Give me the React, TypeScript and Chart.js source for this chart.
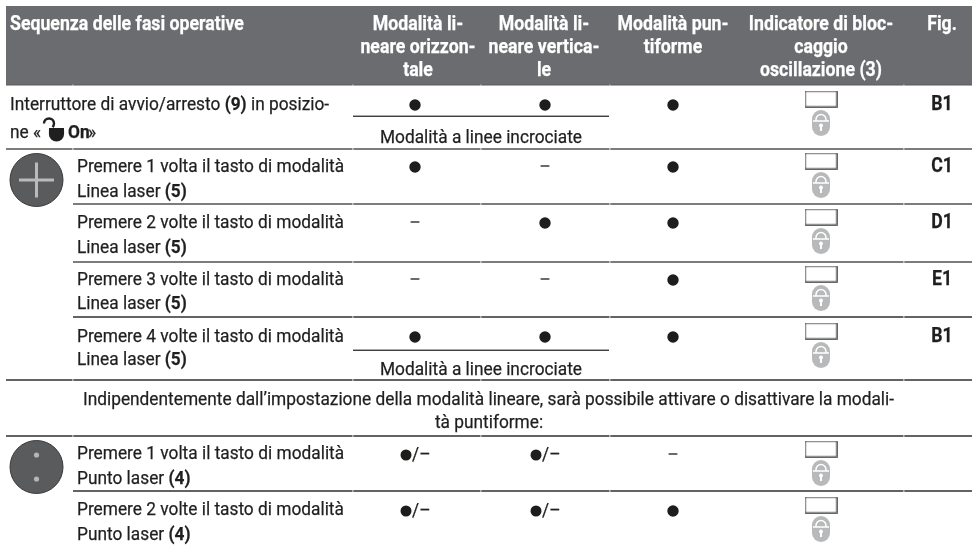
import React, { useEffect, useRef } from "react";
import { Chart, registerables } from "chart.js";

Chart.register(...registerables);

// ---- content ----
const columnHeaders = [
  ["Modalità li-", "neare orizzon-", "tale"],
  ["Modalità li-", "neare vertica-", "le"],
  ["Modalità pun-", "tiforme"],
  ["Indicatore di bloc-", "caggio", "oscillazione (3)"],
  ["Fig."],
];
const firstHeader = "Sequenza delle fasi operative";
const stepLabels = [
  ["Interruttore di avvio/arresto **(9)** in posizio-", ""],
  ["Premere 1 volta il tasto di modalità", "Linea laser **(5)**"],
  ["Premere 2 volte il tasto di modalità", "Linea laser **(5)**"],
  ["Premere 3 volte il tasto di modalità", "Linea laser **(5)**"],
  ["Premere 4 volte il tasto di modalità", "Linea laser **(5)**"],
  ["Premere 1 volta il tasto di modalità", "Punto laser **(4)**"],
  ["Premere 2 volte il tasto di modalità", "Punto laser **(4)**"],
];
const figureLabels = ["B1", "C1", "D1", "E1", "B1", "", ""];
// 1 = on, 0 = off, 2 = on/off
const horizontalMode = [1, 1, 0, 0, 1, 2, 2];
const verticalMode = [1, 0, 1, 0, 1, 2, 2];
const pointMode = [1, 1, 1, 1, 1, 0, 1];
const crossLineNote = "Modalità a linee incrociate";
const noteLines = [
  "Indipendentemente dall’impostazione della modalità lineare, sarà possibile attivare o disattivare la modali-",
  "tà puntiforme:",
];

// ---- layout ----
const W = 972;
const H = 545;
const colCentre = [415, 545, 673, 821, 942];
const headCentre = [418, 544, 673, 821, 942];
const markY = [105, 167, 223, 280, 337, 455, 511];
const baseY = [
  [110, 138],
  [172, 197],
  [228, 253],
  [285, 309],
  [342, 365],
  [459, 484],
  [515, 540],
];
const rules: [number, number][] = [
  [149, 6],
  [204, 73],
  [262, 73],
  [317, 73],
  [380, 6],
  [436, 6],
  [491, 73],
];
const cuts = [72.5, 352.5, 480.5, 609.5, 903.5];
const FONT = "Roboto";
const SX = 0.91;
const SX_BOLD = 0.885;
const SIZE = 19;
const SIZE_BOLD = 20;
const INK = "#1f1f1f";

function drawRuns(ctx: CanvasRenderingContext2D, s: string, x: number, y: number, color: string, align: "left" | "center" = "left", allBold = false) {
  const runs = s.split("**").map((t, i) => ({ t, b: allBold || i % 2 === 1 }));
  const sx = allBold ? SX_BOLD : SX;
  const size = allBold ? SIZE_BOLD : SIZE;
  ctx.save();
  ctx.fillStyle = color;
  ctx.strokeStyle = color;
  ctx.lineWidth = 0.25;
  ctx.textAlign = "left";
  ctx.textBaseline = "alphabetic";
  let w = 0;
  for (const r of runs) {
    ctx.font = `${r.b ? 700 : 400} ${size}px ${FONT}`;
    w += ctx.measureText(r.t).width;
  }
  ctx.translate(align === "center" ? x - (w * sx) / 2 : x, y);
  ctx.scale(sx, 1);
  let px = 0;
  for (const r of runs) {
    ctx.font = `${r.b ? 700 : 400} ${size}px ${FONT}`;
    ctx.fillText(r.t, px, 0);
    ctx.strokeText(r.t, px, 0);
    px += ctx.measureText(r.t).width;
  }
  ctx.restore();
}

function makeRectIcon() {
  const c = document.createElement("canvas");
  c.width = 33;
  c.height = 17;
  const g = c.getContext("2d")!;
  g.strokeStyle = "#4a4a4a";
  g.lineWidth = 1.2;
  g.strokeRect(0.75, 0.75, 31.5, 15.5);
  return c;
}

function makeLockIcon() {
  const c = document.createElement("canvas");
  c.width = 18;
  c.height = 26;
  const g = c.getContext("2d")!;
  g.fillStyle = "#b8b9bb";
  g.beginPath();
  g.roundRect(0, 0, 18, 26, 9);
  g.fill();
  g.strokeStyle = "#ffffff";
  g.lineWidth = 1.5;
  g.beginPath();
  g.moveTo(1, 11);
  g.lineTo(17, 11);
  g.moveTo(4, 11);
  g.lineTo(4, 9.5);
  g.arc(9, 9.5, 5, Math.PI, 0);
  g.lineTo(14, 11);
  g.stroke();
  g.fillStyle = "#ffffff";
  g.beginPath();
  g.arc(9, 15.5, 2, 0, Math.PI * 2);
  g.fill();
  g.fillRect(8, 16, 2, 5);
  return c;
}

const tablePlugin = {
  id: "tablePlugin",
  beforeDatasetsDraw(chart: any) {
    const ctx: CanvasRenderingContext2D = chart.ctx;
    ctx.save();
    ctx.fillStyle = "#6b6c6f";
    ctx.fillRect(6, 6, W - 6, 79);
    ctx.fillStyle = "#5a5b5d";
    ctx.fillRect(6, 84.5, W - 6, 1);

    ctx.fillStyle = "#ffffff";
    for (const c of cuts) ctx.fillRect(c, 84.5, 0.8, 1);

    for (const [y, x0] of rules) {
      ctx.fillStyle = y === 204 || y === 262 || y === 149 ? "#5c5c5c" : "#3d3d3d";
      ctx.fillRect(x0, y - 0.8, W - x0, 1.6);
      ctx.fillStyle = "#ffffff";
      for (const c of cuts) if (c > x0) ctx.fillRect(c, y - 1, 0.8, 2);
    }
    ctx.fillStyle = "#2b2b2b";
    ctx.fillRect(353, 115.6, 256, 1.3);
    ctx.fillRect(353, 349.6, 256, 1.3);
    ctx.restore();
  },
  afterDatasetsDraw(chart: any) {
    const ctx: CanvasRenderingContext2D = chart.ctx;
    drawRuns(ctx, firstHeader, 10, 30, "#ffffff", "left", true);
    columnHeaders.forEach((lines, c) => {
      lines.forEach((l, i) => drawRuns(ctx, l, headCentre[c], 30 + i * 23.2, "#ffffff", "center", true));
    });
    stepLabels.forEach((lines, r) => {
      const x = r === 0 ? 10 : 77;
      lines.forEach((l, i) => {
        if (l) drawRuns(ctx, l, x, baseY[r][i], INK);
      });
      if (figureLabels[r]) drawRuns(ctx, figureLabels[r], colCentre[4], baseY[r][0], INK, "center", true);
    });
    // second line of the first row, with the on-switch symbol
    drawRuns(ctx, "ne «", 10, 138, INK);
    drawRuns(ctx, "**On**", 68, 138, INK);
    drawRuns(ctx, "»", 88, 138, INK);
    ctx.save();
    ctx.fillStyle = "#1f1f1f";
    ctx.beginPath();
    ctx.arc(56.5, 134, 7.6, 0, Math.PI);
    ctx.lineTo(49, 128);
    ctx.lineTo(64, 128);
    ctx.closePath();
    ctx.fill();
    ctx.strokeStyle = "#1f1f1f";
    ctx.lineWidth = 2.4;
    ctx.beginPath();
    ctx.arc(49, 123.5, 5, Math.PI, Math.PI * 2.25);
    ctx.stroke();
    ctx.restore();

    drawRuns(ctx, crossLineNote, 481, 142.5, INK, "center");
    drawRuns(ctx, crossLineNote, 481, 375, INK, "center");
    drawRuns(ctx, noteLines[0], 488.5, 405, INK, "center");
    drawRuns(ctx, noteLines[1], 489, 428, INK, "center");

    [horizontalMode, verticalMode].forEach((mode, c) => {
      mode.forEach((m, r) => {
        if (m === 2) drawRuns(ctx, "/–", colCentre[c] - 3, markY[r] + 5, INK);
      });
    });
  },
};

function markPoints(mode: number[], state: number, col: number, dx = 0, dy = 0) {
  const pts: { x: number; y: number }[] = [];
  mode.forEach((m, r) => {
    if (m === state) pts.push({ x: colCentre[col] + dx, y: markY[r] + dy });
  });
  return pts;
}

export default function App() {
  const ref = useRef<HTMLCanvasElement | null>(null);

  useEffect(() => {
    if (!ref.current) return;
    const rectIcon = makeRectIcon();
    const lockIcon = makeLockIcon();
    const modes = [horizontalMode, verticalMode, pointMode];
    const on = modes.flatMap((m, c) => markPoints(m, 1, c));
    const off = modes.flatMap((m, c) => markPoints(m, 0, c, 0, -1));
    const either = modes.flatMap((m, c) => markPoints(m, 2, c, -9, 0));
    const all = markY.map(() => 1);

    const plain = { showLine: false };
    const chart = new Chart(ref.current, {
      type: "scatter",
      data: {
        datasets: [
          { ...plain, label: "on", data: on, pointStyle: "circle", pointRadius: 5.7, backgroundColor: "#1d1d1b", borderWidth: 0 },
          { ...plain, label: "off", data: off, pointStyle: "line", pointRadius: 4.4, borderColor: "#2b2b2b", borderWidth: 1.4 },
          { ...plain, label: "on/off", data: either, pointStyle: "circle", pointRadius: 5.5, backgroundColor: "#1d1d1b", borderWidth: 0 },
          { ...plain, label: "indicator", data: markPoints(all, 1, 3, 0, -6), pointStyle: rectIcon, pointRadius: 8 },
          { ...plain, label: "lock", data: markPoints(all, 1, 3, 0, 18), pointStyle: lockIcon, pointRadius: 12 },
          { ...plain, label: "plus", data: [{ x: 36.5, y: 180 }], pointStyle: "cross", pointRadius: 17.5, borderColor: "#b9babc", borderWidth: 3 },
          { ...plain, label: "dots", data: [{ x: 36.5, y: 455 }, { x: 36.5, y: 479 }], pointStyle: "circle", pointRadius: 2.6, backgroundColor: "#b5b6b8", borderWidth: 0 },
          { ...plain, label: "button", data: [{ x: 36.5, y: 180 }, { x: 36.5, y: 467 }], pointStyle: "circle", pointRadius: 26.5, backgroundColor: "#5a5b5d", borderColor: "#3a3a3a", borderWidth: 1 },
        ],
      } as any,
      options: {
        animation: false,
        responsive: false,
        layout: { padding: 0, autoPadding: false },
        scales: {
          x: { type: "linear", min: 0, max: W, display: false },
          y: { type: "linear", min: 0, max: H, reverse: true, display: false },
        },
        plugins: { legend: { display: false }, tooltip: { enabled: false } },
      },
      plugins: [tablePlugin as any],
    });
    return () => chart.destroy();
  }, []);

  return (
    <div style={{ position: "fixed", left: 0, top: 0, width: W, height: H, background: "#ffffff" }}>
      <canvas ref={ref} width={W} height={H} style={{ display: "block" }} />
    </div>
  );
}
